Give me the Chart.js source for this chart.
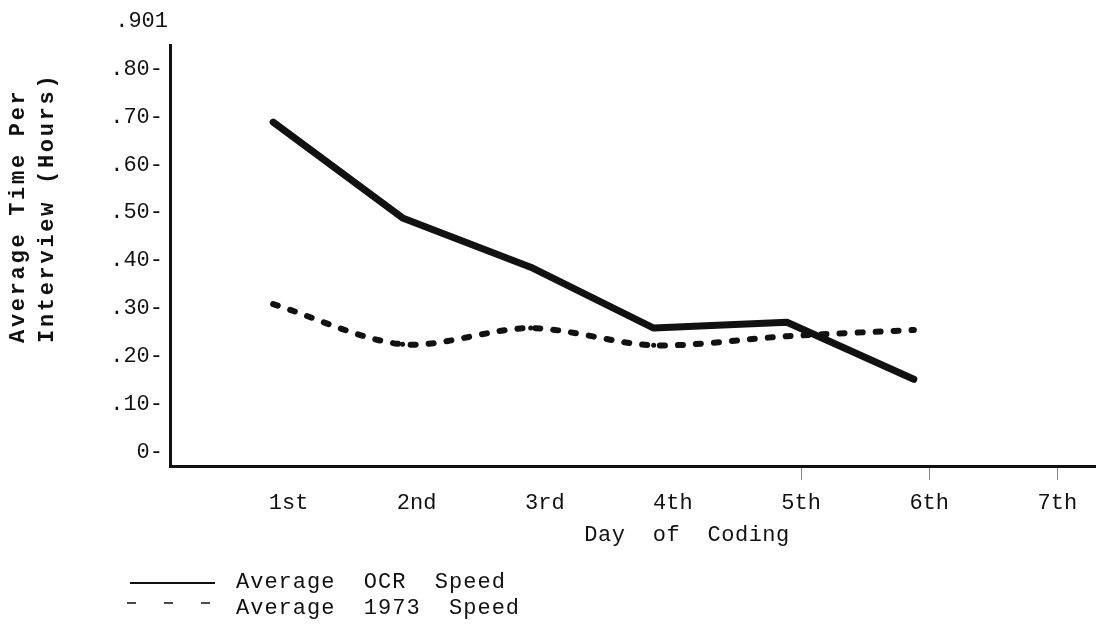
<!DOCTYPE html>
<html>
<head>
<meta charset="utf-8">
<script src="https://cdn.jsdelivr.net/npm/chart.js@4.4.1/dist/chart.umd.min.js"></script>
<style>
    body { margin: 0; background: #fff; }
    #wrap { width: 1099px; height: 633px; position: relative; }
</style>
</head>
<body>
<div id="wrap"><canvas id="codingChart"></canvas></div>
<script>
// Data
const dayLabels = ['1st', '2nd', '3rd', '4th', '5th', '6th', '7th'];
// points were plotted a little left of each day label
const dayPos = [0.88, 1.89, 2.89, 3.85, 4.89, 5.88];
const ocrSpeed = [0.689, 0.489, 0.386, 0.259, 0.271, 0.152];
const speed1973 = [0.309, 0.225, 0.259, 0.223, 0.242, 0.255];

const seriesNames = ['Average  OCR  Speed', 'Average  1973  Speed'];
const yTitle = ['Average Time Per', 'Interview (Hours)'];
const xTitle = 'Day  of  Coding';
const topLabel = '.901';

const mono = "'Liberation Mono', 'DejaVu Sans Mono', monospace";
const ink = '#111';

function toPoints(values) {
    return values.map((v, i) => ({ x: dayPos[i], y: v }));
}

// Extra text the old figure carries: rotated y title, stray top label, x title, key
const extrasPlugin = {
    id: 'extras',
    afterDraw(chart) {
        const ctx = chart.ctx;
        const y = chart.scales.y;
        ctx.save();
        ctx.fillStyle = ink;
        ctx.textBaseline = 'middle';

        // label above the axis
        ctx.font = '22px ' + mono;
        ctx.textAlign = 'right';
        ctx.fillText(topLabel, 168, y.getPixelForValue(0.9));

        // x title
        ctx.textAlign = 'center';
        ctx.letterSpacing = '0.5px';
        ctx.fillText(xTitle, 687, 535);

        // y title, two rotated lines
        ctx.font = 'bold 22px ' + mono;
        ctx.letterSpacing = '2.7px';
        ctx.textAlign = 'left';
        [18, 47].forEach((lx, i) => {
            ctx.save();
            ctx.translate(lx, 343);
            ctx.rotate(-Math.PI / 2);
            ctx.fillText(yTitle[i], 0, 0);
            ctx.restore();
        });

        // key
        ctx.strokeStyle = ink;
        ctx.lineWidth = 2;
        ctx.beginPath();
        ctx.moveTo(130, 583);
        ctx.lineTo(215, 583);
        ctx.stroke();
        ctx.setLineDash([9, 28]);
        ctx.lineWidth = 1.5;
        ctx.beginPath();
        ctx.moveTo(127, 603);
        ctx.lineTo(212, 603);
        ctx.stroke();
        ctx.setLineDash([]);

        ctx.font = '22px ' + mono;
        ctx.letterSpacing = '1px';
        ctx.fillText(seriesNames[0], 236, 582);
        ctx.fillText(seriesNames[1], 236, 608);
        ctx.restore();
    }
};

new Chart(document.getElementById('codingChart'), {
    type: 'line',
    data: {
        datasets: [
            {
                label: seriesNames[0],
                data: toPoints(ocrSpeed),
                borderColor: ink,
                borderWidth: 7,
                borderCapStyle: 'round',
                borderJoinStyle: 'round',
                pointRadius: 0,
                tension: 0
            },
            {
                label: seriesNames[1],
                data: toPoints(speed1973),
                borderColor: ink,
                borderWidth: 6,
                borderDash: [5, 13],
                borderCapStyle: 'round',
                pointRadius: 2.5,
                pointBackgroundColor: ink,
                pointBorderWidth: 0,
                tension: 0.3
            }
        ]
    },
    options: {
        responsive: true,
        maintainAspectRatio: false,
        animation: false,
        layout: { padding: { top: 45, left: 0, right: 0, bottom: 0 } },
        plugins: {
            legend: { display: false },
            tooltip: { enabled: false }
        },
        scales: {
            x: {
                type: 'linear',
                min: 0.075,
                max: 7.294,
                afterFit: s => { s.height = 167; },
                border: { display: true, color: ink, width: 3 },
                grid: {
                    drawOnChartArea: false,
                    drawTicks: true,
                    tickLength: 14,
                    // only the last three days carry a tick mark in the original
                    color: c => (c.tick && c.tick.value >= 5 ? '#888' : 'rgba(0,0,0,0)'),
                    lineWidth: 1
                },
                ticks: {
                    stepSize: 1,
                    includeBounds: false,
                    padding: 10,
                    color: ink,
                    font: { family: mono, size: 22 },
                    callback: v => dayLabels[v - 1] || ''
                }
            },
            y: {
                min: -0.029,
                max: 0.85,
                afterFit: s => { s.width = 170; },
                border: { display: true, color: ink, width: 3 },
                grid: { display: false, drawTicks: false },
                ticks: {
                    stepSize: 0.1,
                    includeBounds: false,
                    padding: 7,
                    color: ink,
                    font: { family: mono, size: 22 },
                    callback: v => (v === 0 ? '0' : '.' + String(Math.round(v * 100)).padStart(2, '0')) + '-'
                }
            }
        }
    },
    plugins: [extrasPlugin]
});
</script>
</body>
</html>
